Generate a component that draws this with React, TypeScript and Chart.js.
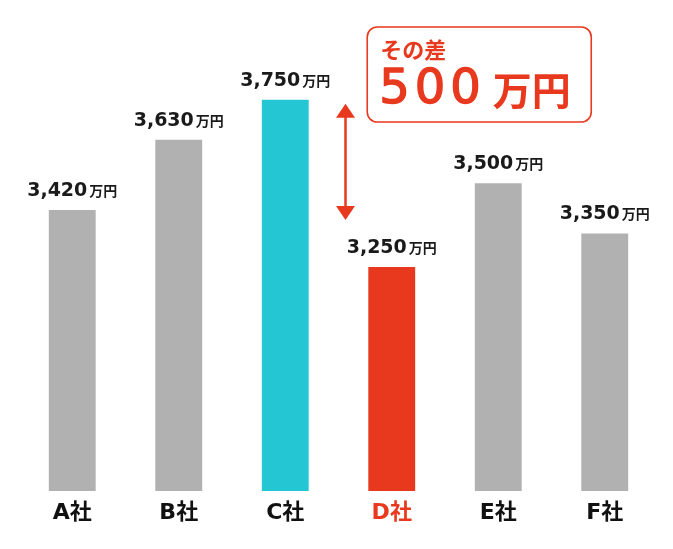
import { useEffect, useRef } from 'react';
import { Chart, registerables } from 'chart.js';

Chart.register(...registerables);

const categories = ['A社', 'B社', 'C社', 'D社', 'E社', 'F社'];
const values = [3420, 3630, 3750, 3250, 3500, 3350];
const valueLabels = ['3,420', '3,630', '3,750', '3,250', '3,500', '3,350'];
const unit = '万円';
const barColors = ['#b1b1b1', '#b1b1b1', '#24c6d3', '#e8391e', '#b1b1b1', '#b1b1b1'];
const tickColors = ['#111111', '#111111', '#111111', '#e8391e', '#111111', '#111111'];
const highIndex = 2;
const lowIndex = 3;
const diffTitle = 'その差';
const diffValue = String(values[highIndex] - values[lowIndex]);
const yMin = 2580;
const yMax = 4000;

const RED = '#e8391e';
const NUM_FONT = 'bold 19px "DejaVu Sans", sans-serif';
const UNIT_FONT = 'bold 14px "Noto Sans CJK JP", sans-serif';

const valueLabelPlugin = {
  id: 'valueLabelPlugin',
  afterDatasetsDraw(chart: any) {
    const { ctx } = chart;
    const meta = chart.getDatasetMeta(0);
    ctx.save();
    meta.data.forEach((bar: any, i: number) => {
      const num = valueLabels[i];
      ctx.font = NUM_FONT;
      const w1 = ctx.measureText(num).width;
      ctx.font = UNIT_FONT;
      const w2 = ctx.measureText(unit).width;
      const gap = 2;
      const total = w1 + gap + w2;
      const x0 = bar.x - total / 2;
      const y = bar.y - 14;
      ctx.fillStyle = '#1a1a1a';
      ctx.textAlign = 'left';
      ctx.textBaseline = 'alphabetic';
      ctx.font = NUM_FONT;
      ctx.fillText(num, x0, y);
      ctx.font = UNIT_FONT;
      ctx.fillText(unit, x0 + w1 + gap, y);
    });
    ctx.restore();
  },
};

const annotationPlugin = {
  id: 'annotationPlugin',
  afterDraw(chart: any) {
    const { ctx } = chart;
    const meta = chart.getDatasetMeta(0);
    const c = meta.data[highIndex];
    const d = meta.data[lowIndex];
    ctx.save();
    // arrow
    const ax = (c.x + d.x) / 2 + 7;
    const top = c.y + 4;
    const bottom = d.y - 47;
    const headL = 14;
    const headW = 9.5;
    ctx.strokeStyle = RED;
    ctx.fillStyle = RED;
    ctx.lineWidth = 2.5;
    ctx.beginPath();
    ctx.moveTo(ax, top + headL - 1);
    ctx.lineTo(ax, bottom - headL + 1);
    ctx.stroke();
    ctx.beginPath();
    ctx.moveTo(ax, top);
    ctx.lineTo(ax - headW, top + headL);
    ctx.lineTo(ax + headW, top + headL);
    ctx.closePath();
    ctx.fill();
    ctx.beginPath();
    ctx.moveTo(ax, bottom);
    ctx.lineTo(ax - headW, bottom - headL);
    ctx.lineTo(ax + headW, bottom - headL);
    ctx.closePath();
    ctx.fill();

    // box
    const bx = d.x - 24.5;
    const by = 27;
    const bw = 224;
    const bh = 95;
    ctx.beginPath();
    (ctx as any).roundRect(bx, by, bw, bh, 10);
    ctx.fillStyle = '#ffffff';
    ctx.fill();
    ctx.lineWidth = 1.6;
    ctx.strokeStyle = RED;
    ctx.stroke();

    ctx.fillStyle = RED;
    ctx.textAlign = 'left';
    ctx.textBaseline = 'middle';
    ctx.font = 'bold 22px "Noto Sans CJK JP", sans-serif';
    ctx.fillText(diffTitle, bx + 13, 50);

    ctx.textBaseline = 'alphabetic';
    ctx.font = '48px "DejaVu Sans", sans-serif';
    (ctx as any).letterSpacing = '5px';
    ctx.lineWidth = 1.4;
    ctx.lineJoin = 'round';
    ctx.fillText(diffValue, bx + 12, 103);
    ctx.strokeText(diffValue, bx + 12, 103);
    const w = ctx.measureText(diffValue).width;
    (ctx as any).letterSpacing = '0px';
    ctx.font = 'bold 39px "Noto Sans CJK JP", sans-serif';
    ctx.fillText(unit, bx + 12 + w + 7, 105);
    ctx.restore();
  },
};

export default function App() {
  const ref = useRef<HTMLCanvasElement | null>(null);

  useEffect(() => {
    document.body.style.margin = '0';
    if (!ref.current) return;
    const chart = new Chart(ref.current, {
      type: 'bar',
      data: {
        labels: categories,
        datasets: [
          {
            data: values,
            backgroundColor: barColors,
            borderWidth: 0,
            categoryPercentage: 1,
            barPercentage: 0.44,
          },
        ],
      },
      options: {
        animation: false,
        responsive: true,
        maintainAspectRatio: false,
        layout: { padding: { top: 16, left: 19, right: 15, bottom: 0 } },
        plugins: {
          legend: { display: false },
          tooltip: { enabled: false },
        },
        scales: {
          x: {
            grid: { display: false, drawTicks: false },
            border: { display: false },
            ticks: {
              padding: 9,
              color: (ctx: any) => tickColors[ctx.index],
              font: { family: '"DejaVu Sans", "Noto Sans CJK JP", sans-serif', size: 22, weight: 'bold' },
            },
            afterFit: (scale: any) => {
              scale.height = 58;
            },
          },
          y: {
            display: false,
            min: yMin,
            max: yMax,
          },
        },
      },
      plugins: [valueLabelPlugin, annotationPlugin],
    });
    return () => chart.destroy();
  }, []);

  return (
    <div style={{ width: 673, height: 549, position: 'relative', background: '#fff' }}>
      <canvas ref={ref} />
    </div>
  );
}
